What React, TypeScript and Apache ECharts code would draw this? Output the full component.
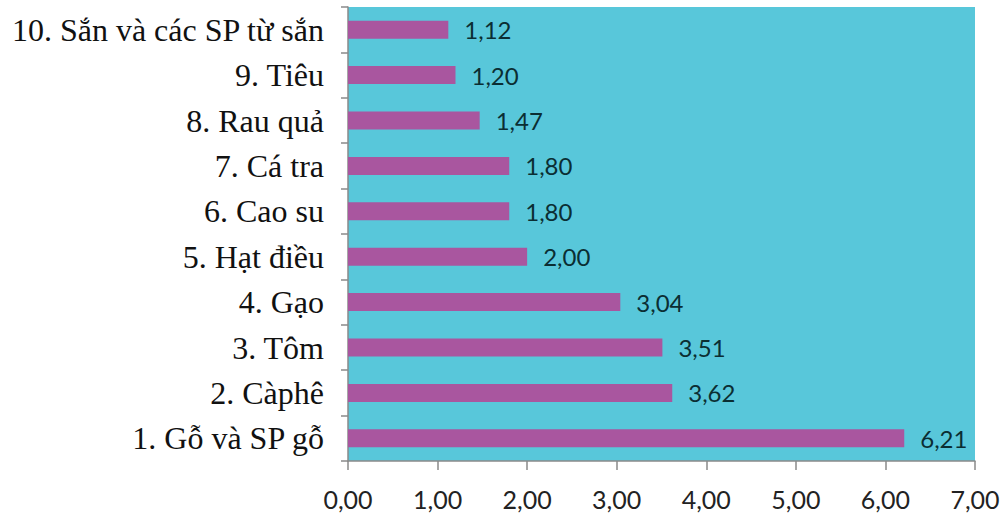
import React, { useEffect, useRef } from "react";
import * as echarts from "echarts";

const categories = [
  "1. Gỗ và SP gỗ",
  "2. Càphê",
  "3. Tôm",
  "4. Gạo",
  "5. Hạt điều",
  "6. Cao su",
  "7. Cá tra",
  "8. Rau quả",
  "9. Tiêu",
  "10. Sắn và các SP từ sắn",
];
const values = [6.21, 3.62, 3.51, 3.04, 2.0, 1.8, 1.8, 1.47, 1.2, 1.12];
const xTicks = [0, 1, 2, 3, 4, 5, 6, 7];

const fmt = (v: number) => v.toFixed(2).replace(".", ",");

export default function App() {
  const ref = useRef<HTMLDivElement>(null);
  useEffect(() => {
    const chart = echarts.init(ref.current!, null, { renderer: "svg" });
    chart.setOption({
      animation: false,
      grid: {
        left: 348,
        right: 30,
        top: 7,
        bottom: 52,
        show: true,
        backgroundColor: "#58C7DA",
        borderWidth: 0,
      },
      xAxis: {
        type: "value",
        min: xTicks[0],
        max: xTicks[xTicks.length - 1],
        interval: 1,
        axisLine: { show: true, lineStyle: { color: "#8a8a8a", width: 1.5 } },
        axisTick: { show: true, length: 9, lineStyle: { color: "#8a8a8a", width: 1.5 } },
        splitLine: { show: false },
        axisLabel: {
          margin: 25,
          formatter: (v: number) => fmt(v),
          fontFamily: "Lato",
          fontSize: 25,
          color: "#222222",
        },
      },
      yAxis: {
        type: "category",
        data: categories,
        axisLine: { show: true, lineStyle: { color: "#8a8a8a", width: 1.5 } },
        axisTick: { show: true, length: 7, lineStyle: { color: "#8a8a8a", width: 1.5 } },
        axisLabel: {
          margin: 24,
          fontFamily: "'Liberation Serif', 'Times New Roman', serif",
          fontSize: 32,
          color: "#111111",
        },
      },
      series: [
        {
          type: "bar",
          data: values,
          barWidth: 18,
          itemStyle: { color: "#A9569F" },
          label: {
            show: true,
            position: "right",
            distance: 16,
            formatter: (p: any) => fmt(p.value),
            fontFamily: "Lato",
            fontSize: 24,
            color: "#0B2E33",
          },
        },
      ],
    });
    return () => chart.dispose();
  }, []);
  return <div ref={ref} style={{ width: 1005, height: 513, position: "absolute", left: 0, top: 0 }} />;
}
